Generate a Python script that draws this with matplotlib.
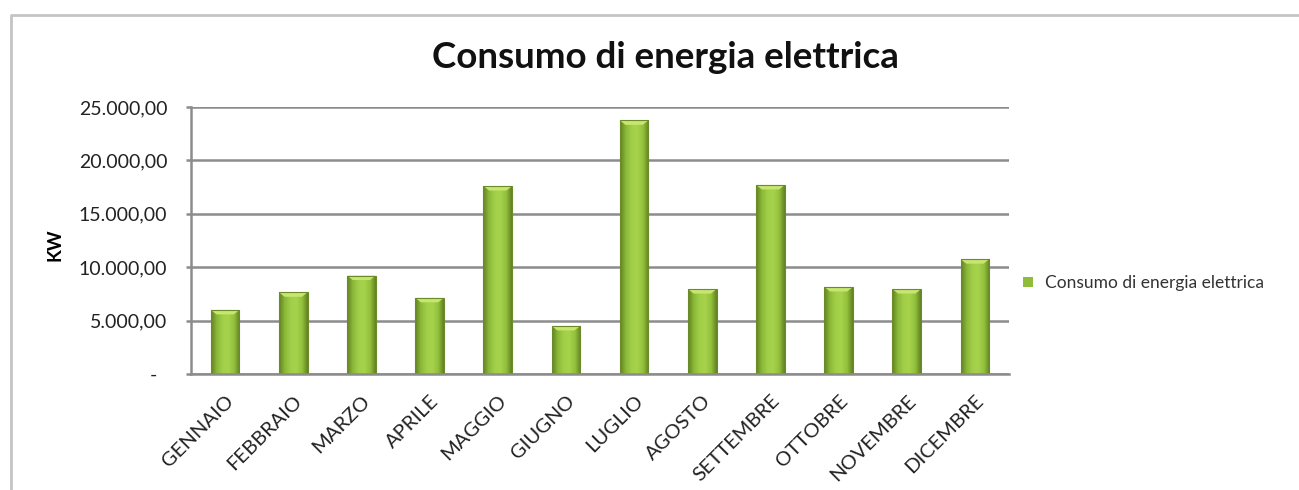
import numpy as np
import matplotlib.pyplot as plt
from matplotlib.colors import LinearSegmentedColormap
from matplotlib.lines import Line2D
from matplotlib.patches import Polygon, Rectangle
from matplotlib.ticker import FuncFormatter

months = ['GENNAIO', 'FEBBRAIO', 'MARZO', 'APRILE', 'MAGGIO', 'GIUGNO',
          'LUGLIO', 'AGOSTO', 'SETTEMBRE', 'OTTOBRE', 'NOVEMBRE', 'DICEMBRE']
consumo = [6000, 7650, 9220, 7130, 17600, 4500,
           23750, 7950, 17700, 8150, 7950, 10750]
series_name = 'Consumo di energia elettrica'
title = 'Consumo di energia elettrica'
y_label = 'KW'

plt.rcParams['font.family'] = ['Lato', 'DejaVu Sans']

W, H = 1299, 490
fig = plt.figure(figsize=(W / 100, H / 100), dpi=100)
fig.patch.set_facecolor('white')

# outer chart border, open at right and bottom like the reference
fig.add_artist(Line2D([11 / W, 11 / W, 1.0], [0.0, 1 - 15 / H, 1 - 15 / H],
                      transform=fig.transFigure, color='#c4c4c4', linewidth=2))

ax = fig.add_axes([191 / W, 1 - 374 / H, (1009 - 191) / W, (374 - 107) / H])

grad = LinearSegmentedColormap.from_list(
    'bar', ['#627f22', '#8ab838', '#a2cf48', '#a6d24c', '#93c13c', '#627f22'])

x = np.arange(len(months))
bars = ax.bar(x, consumo, width=0.42, color='#8fbd3a', edgecolor='none',
              zorder=3, label=series_name)

gradient = np.linspace(0, 1, 256).reshape(1, -1)
for b in bars:
    x0, y0 = b.get_x(), b.get_y()
    w, h = b.get_width(), b.get_height()
    im = ax.imshow(gradient, cmap=grad, aspect='auto', zorder=3,
                   extent=(x0, x0 + w, y0, y0 + h), interpolation='bicubic')
    im.set_clip_path(b)
    # top bevel highlight
    bev = 420
    top = Polygon([(x0, y0 + h), (x0 + w, y0 + h),
                   (x0 + w * 0.8, y0 + h - bev), (x0 + w * 0.2, y0 + h - bev)],
                  closed=True, facecolor='#c6e66f', edgecolor='none', zorder=4)
    ax.add_patch(top)
    ax.add_patch(Rectangle((x0, y0), w, h, fill=False, edgecolor='#6b8a2a',
                           linewidth=0.8, zorder=5))

ax.set_xlim(-0.5, len(months) - 0.5)
ax.set_ylim(0, 25000)
ax.set_yticks(np.arange(0, 25001, 5000))


def fmt(v, pos):
    if v == 0:
        return '-  '
    s = f'{v:,.2f}'
    return s.replace(',', 'X').replace('.', ',').replace('X', '.')


ax.yaxis.set_major_formatter(FuncFormatter(fmt))
ax.grid(axis='y', color='#8c8c8c', linewidth=1.8, zorder=1)
ax.set_axisbelow(True)

for side in ['top', 'right']:
    ax.spines[side].set_visible(False)
ax.spines['left'].set_color('#8c8c8c')
ax.spines['left'].set_linewidth(1.8)
ax.spines['bottom'].set_color('#8c8c8c')
ax.spines['bottom'].set_linewidth(1.8)
ax.spines['bottom'].set_zorder(6)

ax.tick_params(axis='y', direction='out', length=3.6, width=1.8, color='#8c8c8c',
               labelsize=14, labelcolor='#222222', pad=13.5)
ax.tick_params(axis='x', length=0, labelsize=14.5, labelcolor='#222222', pad=13)
ax.set_xticks(x)
ax.set_xticklabels(months, rotation=45, ha='right', rotation_mode='anchor')

ax.set_ylabel(y_label, fontsize=13.5, fontweight='bold')
ax.yaxis.set_label_coords(-127 / (1009 - 191), 0.485)

fig.text(665 / W, 1 - 58 / H, title, ha='center', va='center',
         fontsize=26.5, fontweight='bold', color='#111111')

leg = ax.legend(loc='center left', bbox_to_anchor=(0.998, 0.34), frameon=False,
                fontsize=12.5, handlelength=0.55, handleheight=0.55,
                handletextpad=0.7)
for t in leg.get_texts():
    t.set_color('#333333')

fig.savefig('out.png', dpi=100, facecolor='white')
